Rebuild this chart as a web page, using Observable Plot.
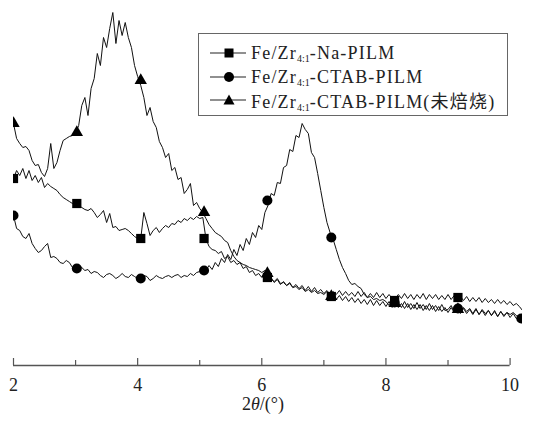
<!DOCTYPE html>
<html>
<head>
<meta charset="utf-8">
<script src="https://cdn.jsdelivr.net/npm/d3@7"></script>
<script src="https://cdn.jsdelivr.net/npm/@observablehq/plot@0.6"></script>
<style>
  html, body { margin: 0; padding: 0; background: #fff; }
  #wrap { position: relative; width: 537px; height: 431px; background: #fff; overflow: hidden; }
  #chart { position: absolute; left: 0; top: 0; }
  #legend { position: absolute; left: 198px; top: 33px; width: 310px; height: 83px; border: 1px solid #666; background: #fff; box-sizing: border-box; }
  .row { position: absolute; left: 0; height: 24px; display: flex; align-items: center; white-space: nowrap; }
  .row svg { display: block; margin-left: 11px; margin-right: 5px; }
  .row span { font-family: "Liberation Serif", "Noto Sans CJK SC", serif; font-size: 18px; color: #222; letter-spacing: 1.2px; }
  .row sub { font-size: 10px; vertical-align: -3px; letter-spacing: 0; }
  #xlabel { position: absolute; left: 0; width: 526px; top: 397px; line-height: 15px; text-align: center; font-family: "Liberation Serif", serif; font-size: 18px; color: #222; }
</style>
</head>
<body>
<div id="wrap">
  <div id="chart"></div>
  <div id="legend"></div>
  <div id="xlabel">2<i>θ</i>/(°)</div>
</div>
<script>
// ---- data ----
// 2θ sampling grid: 2.00 … 10.20 in steps of 0.05 (axis units)
const thetaStart = 2, thetaStep = 0.05;

const seriesNames = ["Na-PILM", "CTAB-PILM", "CTAB-PILM(未焙烧)"];

// Fe/Zr4:1-Na-PILM (square markers), intensity in arbitrary units
const naPILM = [
  187,195,190,197,187,195,185,190,183,188,178,182,179,177,175,171,168,166,164,162,
  162,160,158,156,155,157,153,148,151,155,143,152,138,139,135,136,137,135,132,129,
  127,127,153,142,130,135,138,133,137,140,138,142,141,145,143,147,145,148,146,149,
  147,148,127,119,116,115,112,114,107,109,103,105,101,103,97,99,93,95,90,92,
  88,90,86,88,83,86,81,84,80,83,78,81,77,80,75,79,74,78,73,76,
  72,75,71,74,71,75,70,74,70,73,69,74,69,73,68,72,68,73,68,72,
  67,71,67,67,71,67,72,67,71,66,71,67,72,66,71,67,71,66,70,66,
  71,66,70,67,69,65,69,64,68,64,68,63,67,63,66,62,66,62,65,61,
  64,60,62,59,55
];

// Fe/Zr4:1-CTAB-PILM (circle markers)
const ctabPILM = [
  150,137,135,129,127,132,122,117,113,115,119,122,108,109,107,103,102,105,103,98,
  99,98,98,95,96,92,94,93,90,88,91,92,90,87,89,92,89,88,91,89,
  87,87,90,89,85,87,90,88,87,89,90,88,90,91,88,90,89,92,90,93,
  94,97,95,100,96,103,99,107,103,111,106,116,110,121,115,127,121,133,128,140,
  136,153,160,172,170,183,182,198,200,216,214,230,228,242,236,232,213,208,192,175,
  158,143,133,126,116,106,98,92,85,81,82,79,77,71,68,69,66,67,65,66,
  64,60,65,59,63,58,64,58,62,57,63,57,61,56,62,56,60,55,61,55,
  56,60,54,59,53,58,54,57,52,57,51,56,52,55,50,55,49,54,50,53,
  51,53,50,49,45
];

// Fe/Zr4:1-CTAB-PILM(未焙烧) (triangle markers)
const ctabUncalcined = [
  242,227,222,218,219,215,205,200,201,193,189,197,222,197,203,215,225,227,229,230,
  232,240,260,268,250,277,287,312,300,328,318,337,353,322,345,330,343,328,318,300,
  289,280,268,250,258,244,238,224,218,208,212,195,198,186,188,172,176,182,160,163,
  157,153,147,141,137,133,131,129,125,123,115,109,105,103,101,100,98,97,96,95,
  93,95,90,86,84,87,82,83,80,82,78,79,76,78,74,76,73,75,72,73,
  71,74,68,70,66,70,65,69,64,68,63,67,62,66,61,66,60,65,60,64,
  59,64,58,63,58,62,57,62,56,61,56,61,55,60,55,60,54,59,54,58,
  53,58,53,57,52,57,52,56,51,56,51,55,50,55,50,54,49,54,49,53,
  48,52,47,50,45
];

// marker positions (axis units) and marker heights
const markerX      = [2, 3.02, 4.05, 5.07, 6.09, 7.12, 8.14, 9.16, 10.18];
const squareY      = [187, 162, 127, 127, 88, 69, 65, 68, null];
const circleY      = [150, 97, 87, 95, 165, 128, 63, 57, 47];
const triangleY    = [242, 233, 285, 153, 92, 69, 62, 56, null];

const majorTicks = [2, 4, 6, 8, 10];
const allTicks   = [2, 3, 4, 5, 6, 7, 8, 9, 10];

// ---- build tables ----
const toRows = (arr) => arr.map((v, i) => ({x: +(thetaStart + i * thetaStep).toFixed(2), y: v}));
const mk = (ys) => markerX.map((x, i) => ({x, y: ys[i]})).filter(d => d.y != null);

const lineStyle = {x: "x", y: "y", stroke: "#111", strokeWidth: 1, clip: true};
const dotStyle = {x: "x", y: "y", fill: "#000", stroke: "none", clip: true};
const serif = "'Liberation Serif', serif";

const chart = Plot.plot({
  width: 537,
  height: 400,
  marginLeft: 13,
  marginRight: 15,
  marginTop: 10,
  marginBottom: 35,
  x: {domain: [2, 10.2]},
  y: {domain: [0, 355], axis: null},
  style: {fontFamily: serif, fontSize: "18px", background: "#fff", color: "#222", overflow: "visible"},
  marks: [
    Plot.line(toRows(naPILM), lineStyle),
    Plot.line(toRows(ctabPILM), lineStyle),
    Plot.line(toRows(ctabUncalcined), lineStyle),
    Plot.dot(mk(squareY), {...dotStyle, symbol: "square", r: 5.2}),
    Plot.dot(mk(circleY), {...dotStyle, symbol: "circle", r: 5}),
    Plot.dot(mk(triangleY), {...dotStyle, symbol: "triangle", r: 4.6}),
    Plot.ruleY([0], {x1: d3.min(allTicks), x2: d3.max(allTicks), stroke: "#555", strokeWidth: 1.3}),
    Plot.ruleX(allTicks, {x: d => d, y1: 0, y2: d => majorTicks.includes(d) ? 7 : 5, stroke: "#555", strokeWidth: 1.2}),
    Plot.axisX({ticks: majorTicks, tickSize: 0, tickPadding: 13, tickFormat: d => String(d), fontSize: 18, fontFamily: serif, label: null})
  ]
});
document.getElementById("chart").appendChild(chart);

// ---- legend ----
const legendSymbols = ["square", "circle", "triangle"];
const legend = document.getElementById("legend");
const rowTops = [7, 31, 54];
seriesNames.forEach((name, i) => {
  const row = document.createElement("div");
  row.className = "row";
  row.style.top = rowTops[i] + "px";
  let shape;
  if (legendSymbols[i] === "square") shape = '<rect x="14.5" y="1.5" width="9" height="9" fill="#000"/>';
  else if (legendSymbols[i] === "circle") shape = '<circle cx="19" cy="6" r="5" fill="#000"/>';
  else shape = '<path d="M19,0.5 L24.5,10.5 L13.5,10.5 Z" fill="#000"/>';
  row.innerHTML = '<svg width="36" height="12" viewBox="0 0 36 12"><line x1="0" y1="6" x2="36" y2="6" stroke="#222" stroke-width="1.1"/>' + shape + '</svg>' +
    '<span>Fe/Zr<sub>4:1</sub>-' + name + '</span>';
  legend.appendChild(row);
});
</script>
</body>
</html>
